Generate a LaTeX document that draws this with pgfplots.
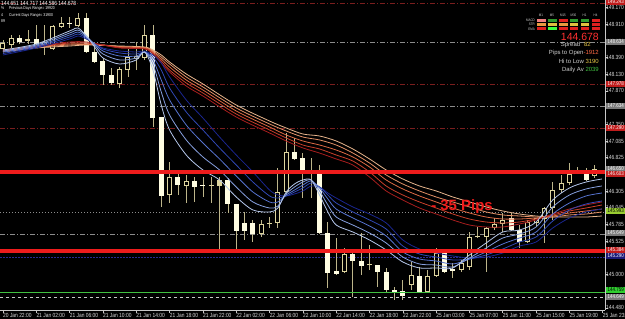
\documentclass[border=0pt]{standalone}
\usepackage{fontspec}
\setmainfont{Liberation Sans}
\newfontfamily\mtfont[FakeStretch=0.82]{Liberation Sans}
\usepackage{pgfplots}
\pgfplotsset{compat=1.18}
\definecolor{wickc}{HTML}{BDB58A}
\definecolor{bullc}{HTML}{DDD49E}
\definecolor{bearc}{HTML}{FFFDE2}
\definecolor{b1}{HTML}{B4C6EA}
\definecolor{b2}{HTML}{869FDE}
\definecolor{b3}{HTML}{5673CF}
\definecolor{b4}{HTML}{3048B4}
\definecolor{b5}{HTML}{1A2690}
\definecolor{o1}{HTML}{A81E1E}
\definecolor{o2}{HTML}{C8402A}
\definecolor{o3}{HTML}{DC6A44}
\definecolor{o4}{HTML}{E29066}
\definecolor{o5}{HTML}{E6B48C}
\definecolor{dkred}{HTML}{7A1E1E}
\definecolor{gline}{HTML}{8C8C8C}
\definecolor{hred}{HTML}{EE1C1C}
\definecolor{navyl}{HTML}{2A2A90}
\definecolor{grn}{HTML}{40C040}
\definecolor{txt}{HTML}{D8D8D8}
\definecolor{axc}{HTML}{C8C8C8}
\definecolor{boxred}{HTML}{C01C1C}
\definecolor{boxgray}{HTML}{7A7A7A}
\definecolor{boxyg}{HTML}{9ACD32}
\definecolor{boxnavy}{HTML}{1A1A78}
\definecolor{boxgrn}{HTML}{30D030}
\definecolor{pkred}{HTML}{FF3030}
\definecolor{gold}{HTML}{E8C848}
\definecolor{salmon}{HTML}{FF6A45}
\definecolor{panelgray}{HTML}{D0D0D0}
\definecolor{macdpink}{HTML}{F08080}
\definecolor{cgreen}{HTML}{2E9A2E}
\definecolor{cred}{HTML}{E02020}
\definecolor{corange}{HTML}{E89A40}
\definecolor{cgold}{HTML}{E0C040}
\definecolor{clime}{HTML}{40FF40}
\newcommand{\lvl}[4]{\node[fill=#2, text=#3, anchor=west, inner sep=0pt, minimum width=19bp, minimum height=6.5bp, font=\mtfont\fontsize{5.5}{5.5}\selectfont] at (606bp,#1bp) {#4};}
\begin{document}
\begin{tikzpicture}
\useasboundingbox (0,0) rectangle (625bp,319bp);
\fill[black] (0,0) rectangle (625bp,319bp);
\begin{axis}[
  at={(0bp,9bp)}, anchor=south west,
  scale only axis, width=605bp, height=310bp,
  xmin=-0.36, xmax=72.27, ymin=144.446, ymax=149.290,
  axis x line*=bottom, axis y line*=right,
  axis line style={draw=axc, line width=0.8bp},
  tick align=outside, major tick length=3bp,
  tick style={draw=axc, line width=0.6bp},
  xtick={0,4,...,72},
  xticklabels={20 Jan 22:00,21 Jan 02:00,21 Jan 06:00,21 Jan 10:00,21 Jan 14:00,21 Jan 18:00,21 Jan 22:00,22 Jan 02:00,22 Jan 06:00,22 Jan 10:00,22 Jan 14:00,22 Jan 18:00,22 Jan 22:00,25 Jan 03:00,25 Jan 07:00,25 Jan 11:00,25 Jan 15:00,25 Jan 19:00,25 Jan 23:00},
  ytick={144.480,144.740,145.000,145.265,145.525,145.785,146.045,146.305,146.565,146.825,147.085,147.350,147.610,147.870,148.130,148.390,148.650,148.910,149.170},
  yticklabels={144.480,144.740,145.000,145.265,145.525,145.785,146.045,146.305,146.565,146.825,147.085,147.350,147.610,147.870,148.130,148.390,148.650,148.910,149.170},
  xticklabel style={font=\mtfont\fontsize{6}{6}\selectfont, text=txt, anchor=north west, inner sep=0pt, yshift=-0.5bp},
  yticklabel style={font=\mtfont\fontsize{6}{6}\selectfont, text=txt, anchor=west, inner sep=0pt, xshift=-2bp},
  unbounded coords=jump,
  every axis plot/.append style={mark=none},
]
% level lines (dash-dot)
\addplot[dkred, line width=0.8bp, dash pattern=on 5bp off 2bp on 1bp off 2bp] coordinates {(-0.36,149.243) (72.27,149.243)};
\addplot[gline, line width=0.8bp, dash pattern=on 5bp off 2bp on 1bp off 2bp] coordinates {(-0.36,148.634) (72.27,148.634)};
\addplot[dkred, line width=0.8bp, dash pattern=on 5bp off 2bp on 1bp off 2bp] coordinates {(-0.36,147.978) (72.27,147.978)};
\addplot[gline, line width=0.8bp, dash pattern=on 5bp off 2bp on 1bp off 2bp] coordinates {(-0.36,147.634) (72.27,147.634)};
\addplot[dkred, line width=0.8bp, dash pattern=on 5bp off 2bp on 1bp off 2bp] coordinates {(-0.36,147.290) (72.27,147.290)};
\addplot[gline, line width=0.8bp, dash pattern=on 1bp off 2bp] coordinates {(-0.36,145.978) (72.27,145.978)};
\addplot[gline, line width=0.8bp, dash pattern=on 5bp off 2bp on 1bp off 2bp] coordinates {(-0.36,145.634) (72.27,145.634)};
\addplot[navyl, line width=0.9bp, dash pattern=on 1.5bp off 1.5bp] coordinates {(-0.36,145.274) (72.27,145.274)};
% wicks
\addplot[wickc, line width=0.8bp] coordinates {
(0,148.478)(0,148.665)(0,nan) (1,148.540)(1,148.743)(1,nan) (2,148.603)(2,148.743)(2,nan) (3,148.603)(3,148.821)(3,nan)
(4,148.587)(4,148.899)(4,nan) (5,148.431)(5,148.899)(5,nan) (6,148.509)(6,148.899)(6,nan) (7,148.853)(7,149.024)(7,nan)
(8,148.853)(8,149.024)(8,nan) (9,148.868)(9,149.087)(9,nan) (10,148.462)(10,149.087)(10,nan) (11,148.306)(11,148.618)(11,nan)
(12,147.962)(12,148.384)(12,nan) (13,147.962)(13,148.228)(13,nan) (14,147.915)(14,148.243)(14,nan) (15,148.087)(15,148.524)(15,nan)
(16,148.196)(16,148.634)(16,nan) (17,148.353)(17,148.899)(17,nan) (18,147.306)(18,148.899)(18,nan) (19,146.056)(19,147.462)(19,nan)
(20,146.118)(20,146.759)(20,nan) (21,146.243)(21,146.587)(21,nan) (22,146.118)(22,146.556)(22,nan) (23,146.134)(23,146.524)(23,nan)
(24,146.212)(24,146.524)(24,nan) (25,146.118)(25,146.524)(25,nan) (26,145.384)(26,146.524)(26,nan) (27,145.962)(27,146.509)(27,nan)
(28,145.384)(28,146.103)(28,nan) (29,145.540)(29,145.978)(29,nan) (30,145.509)(30,145.853)(30,nan) (31,145.587)(31,145.853)(31,nan)
(32,145.728)(32,145.899)(32,nan) (33,145.728)(33,146.665)(33,nan) (34,146.243)(34,147.212)(34,nan) (35,146.790)(35,147.134)(35,nan)
(36,146.196)(36,146.899)(36,nan) (37,146.196)(37,146.821)(37,nan) (38,145.634)(38,146.712)(38,nan) (39,144.790)(39,145.821)(39,nan)
(40,144.993)(40,145.571)(40,nan) (41,145.024)(41,145.415)(41,nan) (42,144.649)(42,145.337)(42,nan) (43,144.993)(43,145.649)(43,nan)
(44,145.071)(44,145.462)(44,nan) (45,144.806)(45,145.149)(45,nan) (46,144.728)(46,145.103)(46,nan) (47,144.603)(47,144.806)(47,nan)
(48,144.603)(48,144.915)(48,nan) (49,144.759)(49,145.196)(49,nan) (50,144.712)(50,145.118)(50,nan) (51,144.712)(51,145.071)(51,nan)
(52,144.962)(52,145.415)(52,nan) (53,145.024)(53,145.353)(53,nan) (54,144.946)(54,145.181)(54,nan) (55,145.040)(55,145.228)(55,nan)
(56,145.071)(56,145.665)(56,nan) (57,145.571)(57,145.743)(57,nan) (58,145.040)(58,145.743)(58,nan) (59,145.696)(59,145.884)(59,nan)
(60,145.665)(60,145.962)(60,nan) (61,145.681)(61,145.962)(61,nan) (62,145.415)(62,145.774)(62,nan) (63,145.493)(63,145.853)(63,nan)
(64,145.743)(64,145.884)(64,nan) (65,145.493)(65,146.056)(65,nan) (66,145.853)(66,146.446)(66,nan) (67,146.274)(67,146.556)(67,nan)
(68,146.399)(68,146.743)(68,nan) (69,146.571)(69,146.681)(69,nan) (70,146.462)(70,146.665)(70,nan) (71,146.509)(71,146.712)
};
% bearish bodies (filled)
\addplot[bearc, line width=5bp] coordinates {
(2,148.696)(2,148.634)(2,nan) (4,148.681)(4,148.603)(4,nan) (8,148.938)(8,148.923)(8,nan) (10,149.009)(10,148.478)(10,nan)
(11,148.478)(11,148.321)(11,nan) (12,148.337)(12,148.118)(12,nan) (13,148.118)(13,147.993)(13,nan) (18,148.743)(18,147.446)(18,nan)
(19,147.462)(19,146.228)(19,nan) (21,146.524)(21,146.399)(21,nan) (23,146.462)(23,146.368)(23,nan) (24,146.392)(24,146.376)(24,nan)
(27,146.478)(27,146.103)(27,nan) (28,146.103)(28,145.681)(28,nan) (29,145.806)(29,145.681)(29,nan) (30,145.806)(30,145.634)(30,nan)
(35,146.915)(35,146.806)(35,nan) (36,146.821)(36,146.618)(36,nan) (37,146.626)(37,146.610)(37,nan) (38,146.618)(38,145.649)(38,nan)
(39,145.649)(39,145.024)(39,nan) (40,145.056)(40,145.009)(40,nan) (42,145.321)(42,145.212)(42,nan) (43,145.212)(43,145.134)(43,nan)
(45,145.149)(45,145.040)(45,nan) (46,145.040)(46,144.759)(46,nan) (47,144.751)(47,144.735)(47,nan) (48,144.743)(48,144.665)(48,nan)
(50,144.978)(50,144.728)(50,nan) (53,145.337)(53,145.040)(53,nan) (54,145.079)(54,145.063)(54,nan) (61,145.884)(61,145.696)(61,nan)
(62,145.696)(62,145.509)(62,nan) (70,146.603)(70,146.478)
};
% bullish bodies (outline)
\addplot[bullc, line width=5bp] coordinates {
(0,148.524)(0,148.618)(0,nan) (1,148.587)(1,148.696)(1,nan) (3,148.649)(3,148.681)(3,nan) (5,148.587)(5,148.634)(5,nan)
(6,148.524)(6,148.884)(6,nan) (7,148.868)(7,148.931)(7,nan) (9,148.884)(9,149.009)(9,nan) (14,147.978)(14,148.212)(14,nan)
(15,148.196)(15,148.399)(15,nan) (16,148.368)(16,148.415)(16,nan) (17,148.384)(17,148.743)(17,nan) (20,146.243)(20,146.524)(20,nan)
(22,146.384)(22,146.462)(22,nan) (25,146.392)(25,146.407)(25,nan) (26,146.384)(26,146.478)(26,nan) (31,145.634)(31,145.790)(31,nan)
(32,145.798)(32,145.813)(32,nan) (33,145.806)(33,146.290)(33,nan) (34,146.290)(34,146.915)(34,nan) (41,145.040)(41,145.321)(41,nan)
(44,145.142)(44,145.157)(44,nan) (49,144.837)(49,144.993)(49,nan) (51,144.728)(51,144.978)(51,nan) (52,144.978)(52,145.337)(52,nan)
(55,145.071)(55,145.181)(55,nan) (56,145.118)(56,145.587)(56,nan) (57,145.579)(57,145.595)(57,nan) (58,145.587)(58,145.728)(58,nan)
(59,145.728)(59,145.790)(59,nan) (60,145.790)(60,145.853)(60,nan) (63,145.509)(63,145.821)(63,nan) (64,145.806)(64,145.884)(64,nan)
(65,145.868)(65,146.040)(65,nan) (66,146.040)(66,146.321)(66,nan) (67,146.321)(67,146.431)(67,nan) (68,146.431)(68,146.571)(68,nan)
(69,146.595)(69,146.610)(69,nan) (71,146.540)(71,146.649)
};
% bullish bodies (hollow inside)
\addplot[black, line width=3bp] coordinates {
(0,148.540)(0,148.602)(0,nan) (1,148.603)(1,148.680)(1,nan) (5,148.603)(5,148.618)(5,nan) (6,148.540)(6,148.868)(6,nan)
(7,148.884)(7,148.915)(7,nan) (9,148.900)(9,148.993)(9,nan) (14,147.994)(14,148.196)(14,nan) (15,148.212)(15,148.383)(15,nan)
(16,148.384)(16,148.399)(16,nan) (17,148.400)(17,148.727)(17,nan) (20,146.259)(20,146.508)(20,nan) (22,146.400)(22,146.446)(22,nan)
(31,145.650)(31,145.774)(31,nan) (33,145.822)(33,146.274)(33,nan) (34,146.306)(34,146.899)(34,nan) (41,145.056)(41,145.305)(41,nan)
(49,144.853)(49,144.977)(49,nan) (51,144.744)(51,144.962)(51,nan) (52,144.994)(52,145.321)(52,nan) (55,145.087)(55,145.165)(55,nan)
(56,145.134)(56,145.571)(56,nan) (58,145.603)(58,145.712)(58,nan) (59,145.744)(59,145.774)(59,nan) (60,145.806)(60,145.837)(60,nan)
(63,145.525)(63,145.805)(63,nan) (64,145.822)(64,145.868)(64,nan) (65,145.884)(65,146.024)(65,nan) (66,146.056)(66,146.305)(66,nan)
(67,146.337)(67,146.415)(67,nan) (68,146.447)(68,146.555)(68,nan) (71,146.556)(71,146.633)
};
% slow EMA ribbon (orange / red)
\addplot[o5, line width=0.8bp, smooth, tension=0.5] coordinates {(0,148.478)(4,148.540)(8,148.571)(10,148.587)(12,148.579)(14,148.571)(17,148.556)(18,148.509)(19,148.431)(20,148.321)(22,148.134)(24,147.978)(28,147.649)(32,147.399)(34,147.290)(36,147.196)(38,147.165)(40,147.087)(42,146.962)(44,146.806)(46,146.634)(48,146.493)(50,146.384)(52,146.306)(54,146.212)(56,146.134)(58,146.056)(60,145.993)(62,145.946)(64,145.915)(66,145.899)(68,145.899)(70,145.899)(71.9,145.915)};
\addplot[o4, line width=0.8bp, smooth, tension=0.5] coordinates {(0,148.485)(4,148.548)(8,148.587)(10,148.595)(12,148.587)(14,148.563)(17,148.548)(18,148.493)(19,148.399)(20,148.290)(22,148.087)(24,147.931)(28,147.603)(32,147.353)(34,147.243)(36,147.149)(38,147.103)(40,147.024)(42,146.899)(44,146.743)(46,146.556)(48,146.415)(50,146.306)(52,146.212)(54,146.134)(56,146.056)(58,145.978)(60,145.931)(62,145.915)(64,145.899)(66,145.899)(68,145.931)(70,145.946)(71.9,145.978)};
\addplot[o3, line width=0.8bp, smooth, tension=0.5] coordinates {(0,148.493)(4,148.556)(8,148.603)(10,148.603)(12,148.587)(14,148.556)(17,148.540)(18,148.478)(19,148.368)(20,148.243)(22,148.040)(24,147.884)(28,147.556)(32,147.306)(34,147.181)(36,147.087)(38,147.024)(40,146.946)(42,146.837)(44,146.681)(46,146.478)(48,146.337)(50,146.228)(52,146.134)(54,146.040)(56,145.962)(58,145.899)(60,145.868)(62,145.868)(64,145.884)(66,145.915)(68,145.962)(70,145.993)(71.9,146.024)};
\addplot[o2, line width=0.8bp, smooth, tension=0.5] coordinates {(0,148.501)(4,148.563)(8,148.618)(10,148.618)(12,148.587)(14,148.548)(17,148.532)(18,148.462)(19,148.337)(20,148.196)(22,147.993)(24,147.837)(28,147.509)(32,147.259)(34,147.134)(36,147.024)(38,146.962)(40,146.868)(42,146.774)(44,146.603)(46,146.384)(48,146.243)(50,146.134)(52,146.040)(54,145.946)(56,145.868)(58,145.821)(60,145.806)(62,145.821)(64,145.868)(66,145.931)(68,145.993)(70,146.040)(71.9,146.087)};
\addplot[o1, line width=0.8bp, smooth, tension=0.5] coordinates {(0,148.509)(4,148.571)(8,148.634)(10,148.634)(12,148.587)(14,148.540)(17,148.524)(18,148.446)(19,148.306)(20,148.165)(22,147.946)(24,147.790)(28,147.462)(32,147.212)(34,147.087)(36,146.978)(38,146.899)(40,146.806)(42,146.712)(44,146.524)(46,146.306)(48,146.165)(50,146.040)(52,145.946)(54,145.853)(56,145.774)(58,145.743)(60,145.743)(62,145.790)(64,145.853)(66,145.946)(68,146.024)(70,146.087)(71.9,146.134)};
% fast EMA ribbon (blue)
\addplot[b5, line width=0.8bp, smooth, tension=0.5] coordinates {(0,148.431)(4,148.540)(8,148.681)(9,148.728)(10,148.681)(11,148.603)(12,148.540)(14,148.493)(16,148.478)(17,148.493)(18,148.431)(19,148.306)(20,148.087)(22,147.728)(24,147.446)(26,147.149)(28,146.868)(30,146.603)(32,146.321)(33,146.243)(34,146.228)(35,146.259)(36,146.306)(37,146.384)(38,146.368)(39,146.274)(40,146.196)(42,146.056)(44,145.946)(46,145.806)(48,145.540)(50,145.399)(52,145.337)(54,145.290)(56,145.259)(58,145.274)(60,145.337)(62,145.446)(64,145.509)(66,145.728)(68,145.884)(70,145.978)(71.9,146.024)};
\addplot[b4, line width=0.8bp, smooth, tension=0.5] coordinates {(0,148.454)(4,148.556)(8,148.712)(9,148.759)(10,148.696)(11,148.603)(12,148.524)(14,148.462)(16,148.446)(17,148.478)(18,148.399)(19,148.196)(20,147.915)(22,147.540)(24,147.259)(26,146.978)(28,146.712)(30,146.446)(32,146.228)(33,146.196)(34,146.228)(35,146.290)(36,146.353)(37,146.431)(38,146.368)(39,146.243)(40,146.118)(42,145.978)(44,145.853)(46,145.712)(48,145.446)(50,145.321)(52,145.274)(54,145.228)(56,145.243)(58,145.306)(60,145.399)(62,145.509)(64,145.587)(66,145.837)(68,146.009)(70,146.103)(71.9,146.149)};
\addplot[b3, line width=0.8bp, smooth, tension=0.5] coordinates {(0,148.478)(4,148.571)(8,148.743)(9,148.790)(10,148.712)(11,148.603)(12,148.493)(14,148.415)(16,148.415)(17,148.478)(18,148.353)(19,148.040)(20,147.728)(22,147.337)(24,147.056)(26,146.806)(28,146.540)(30,146.290)(32,146.134)(33,146.134)(34,146.243)(35,146.321)(36,146.399)(37,146.462)(38,146.353)(39,146.181)(40,146.024)(42,145.884)(44,145.759)(46,145.603)(48,145.353)(50,145.243)(52,145.212)(54,145.165)(56,145.243)(58,145.353)(60,145.478)(62,145.571)(64,145.665)(66,145.946)(68,146.118)(70,146.228)(71.9,146.274)};
\addplot[b2, line width=0.8bp, smooth, tension=0.5] coordinates {(0,148.493)(4,148.587)(8,148.774)(9,148.821)(10,148.728)(11,148.587)(12,148.446)(14,148.353)(16,148.384)(17,148.478)(18,148.290)(19,147.853)(20,147.493)(22,147.103)(24,146.837)(26,146.634)(28,146.368)(30,146.134)(32,146.040)(33,146.071)(34,146.259)(35,146.368)(36,146.446)(37,146.478)(38,146.306)(39,146.087)(40,145.899)(42,145.774)(44,145.649)(46,145.493)(48,145.274)(50,145.165)(52,145.149)(54,145.118)(56,145.259)(58,145.415)(60,145.571)(62,145.634)(64,145.743)(66,146.056)(68,146.243)(70,146.337)(71.9,146.384)};
\addplot[b1, line width=0.8bp, smooth, tension=0.5] coordinates {(0,148.509)(4,148.603)(8,148.806)(9,148.853)(10,148.728)(11,148.556)(12,148.384)(14,148.290)(16,148.353)(17,148.478)(18,148.196)(19,147.649)(20,147.259)(22,146.868)(24,146.634)(26,146.478)(28,146.212)(30,146.009)(32,145.978)(33,146.040)(34,146.290)(35,146.415)(36,146.478)(37,146.478)(38,146.243)(39,145.978)(40,145.774)(42,145.665)(44,145.540)(46,145.384)(48,145.196)(50,145.103)(52,145.103)(54,145.103)(56,145.306)(58,145.493)(60,145.665)(62,145.696)(64,145.821)(66,146.165)(68,146.353)(70,146.446)(71.9,146.493)};
% drawn levels on top
\addplot[hred, line width=3.5bp] coordinates {(-0.36,146.603) (72.27,146.603)};
\addplot[hred, line width=3.5bp] coordinates {(-0.36,145.368) (72.27,145.368)};
\addplot[grn, line width=0.9bp] coordinates {(-0.36,144.728) (72.27,144.728)};
\addplot[axc, line width=0.8bp, dash pattern=on 3bp off 3bp] coordinates {(-0.36,144.649) (72.27,144.649)};
\end{axis}
% level boxes on the price scale
\lvl{317}{boxred}{white}{149.243}
\lvl{277}{boxgray}{white}{148.634}
\lvl{235}{boxred}{white}{147.978}
\lvl{213}{boxgray}{white}{147.634}
\lvl{191}{boxred}{white}{147.290}
\lvl{150}{boxgray}{white}{146.650}
\lvl{145}{boxred}{white}{146.603}
\lvl{108}{boxyg}{black}{145.993}
\lvl{86}{boxgray}{white}{145.649}
\lvl{69}{boxred}{white}{145.384}
\lvl{63}{boxnavy}{white}{145.290}
\lvl{29}{boxgrn}{black}{144.759}
\lvl{22}{boxgray}{white}{144.649}
% top-left info
\node[anchor=west, inner sep=0pt, text=white, font=\mtfont\fontsize{6}{6}\selectfont] at (1bp,316bp) {144.651 144.717 144.586 144.678};
\node[anchor=west, inner sep=0pt, text=white, font=\mtfont\fontsize{4.2}{4.2}\selectfont] at (1bp,311bp) {\%};
\node[anchor=west, inner sep=0pt, text=white, font=\mtfont\fontsize{4.2}{4.2}\selectfont] at (9bp,311bp) {Previous Days Range= 19920};
\node[anchor=west, inner sep=0pt, text=white, font=\mtfont\fontsize{4.2}{4.2}\selectfont] at (1bp,304bp) {4};
\node[anchor=west, inner sep=0pt, text=white, font=\mtfont\fontsize{4.2}{4.2}\selectfont] at (9bp,304bp) {Current Days Range= 31900};
\node[anchor=west, inner sep=0pt, text=white, font=\mtfont\fontsize{4.2}{4.2}\selectfont] at (1bp,298bp) {89};
% signal panel
\foreach \lab/\cx in {M1/541,M5/552,M15/563,M30/573.5,H1/584.5,H4/595.5}{
  \node[inner sep=0pt, text=panelgray, font=\mtfont\fontsize{3.6}{3.6}\selectfont] at (\cx bp,304bp) {\lab};}
\node[anchor=east, inner sep=0pt, text=panelgray, font=\mtfont\fontsize{3.6}{3.6}\selectfont] at (535bp,298.5bp) {MACD};
\node[anchor=east, inner sep=0pt, text=panelgray, font=\mtfont\fontsize{3.6}{3.6}\selectfont] at (535bp,294.5bp) {STR};
\node[anchor=east, inner sep=0pt, text=panelgray, font=\mtfont\fontsize{3.6}{3.6}\selectfont] at (535bp,290bp) {EMA};
\foreach \x/\ca/\cb/\cc in {537/macdpink/corange/cred, 548/cgreen/cgold/clime, 559/cred/corange/cred, 569.5/cgreen/cgold/cred, 580.5/cgreen/cgold/cred, 591.5/cred/cred/cred}{
  \fill[\ca] (\x bp,297bp) rectangle ++(8.5bp,3bp);
  \fill[\cb] (\x bp,293bp) rectangle ++(8.5bp,3bp);
  \fill[\cc] (\x bp,288.5bp) rectangle ++(8.5bp,3bp);}
\node[anchor=east, inner sep=0pt, text=pkred, font=\fontsize{10.5}{10.5}\selectfont] at (599bp,282.5bp) {144.678};
\node[anchor=east, inner sep=0pt, font=\fontsize{6}{6}\selectfont] at (591bp,274bp) {\textcolor{panelgray}{Spread}\hspace{4bp}\textcolor{gold}{82}};
\node[anchor=east, inner sep=0pt, font=\fontsize{6}{6}\selectfont] at (599bp,266bp) {\textcolor{panelgray}{Pips to Open}\textcolor{salmon}{-1912}};
\node[anchor=east, inner sep=0pt, font=\fontsize{6}{6}\selectfont] at (599bp,258bp) {\textcolor{panelgray}{Hi to Low }\textcolor{gold}{3190}};
\node[anchor=east, inner sep=0pt, font=\fontsize{6}{6}\selectfont] at (599bp,249.5bp) {\textcolor{panelgray}{Daily Av }\textcolor{grn}{2039}};
% annotation
\node[inner sep=0pt, text=hred, font=\bfseries\fontsize{15}{15}\selectfont] at (462bp,112bp) {- 35 Pips};
\end{tikzpicture}
\end{document}
